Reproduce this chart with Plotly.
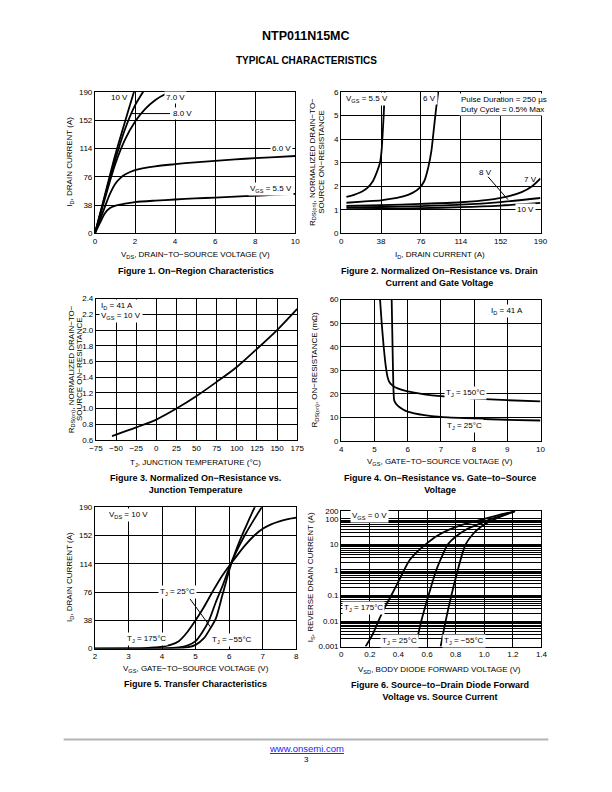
import plotly.graph_objects as go

W, H = 612, 792
FONT = "Liberation Sans, Arial, sans-serif"


def fx(p):
    return p / W


def fy(p):
    return 1 - p / H


# ---------------- DATA ----------------
# Figure 1: On-region characteristics (VDS [V] vs ID [A])
f1_vgs10_x = [0, 0.5, 1.0, 1.5, 1.9, 2.0]
f1_vgs10_y = [0, 52, 104, 150, 186, 194]
f1_vgs8_x = [0, 0.5, 1.0, 1.5, 2.0, 2.4, 2.5]
f1_vgs8_y = [0, 50, 98, 140, 172, 190, 194]
f1_vgs7_x = [0, 0.5, 1.0, 1.5, 2.0, 2.5, 3.0, 3.5, 3.8, 4.0]
f1_vgs7_y = [0, 47, 92, 126, 150, 167, 179, 187, 190, 192]
f1_vgs6_x = [0, 0.25, 0.5, 0.75, 1.0, 1.25, 1.5, 2.0, 3.0, 4.0, 5.0, 6.0, 7.0, 8.0, 9.0, 10.0]
f1_vgs6_y = [0, 18, 36, 53, 66, 74, 79, 85, 90, 93, 95.5, 97.5, 99.5, 101, 102.5, 104]
f1_vgs55_x = [0, 0.25, 0.5, 0.75, 1.0, 1.5, 2.0, 3.0, 4.0, 5.0, 6.0, 7.0, 8.0, 9.0, 10.0]
f1_vgs55_y = [0, 14, 27, 34, 37, 40, 42, 44, 45.5, 47, 48, 49.5, 50.5, 52, 53]

# Figure 2: Normalized RDS(on) vs ID for several VGS
f2_v55_x = [5, 10, 15, 20, 25, 30, 34, 37, 38.5, 39.5, 40.5, 41.5, 42.5]
f2_v55_y = [1.55, 1.6, 1.68, 1.78, 1.93, 2.2, 2.6, 3.0, 3.5, 4.2, 5.0, 6.0, 6.6]
f2_v6_x = [5, 20, 38, 50, 60, 68, 74, 79, 83, 86, 88.5, 90.5, 92.5, 93.5]
f2_v6_y = [1.3, 1.35, 1.4, 1.48, 1.58, 1.72, 1.9, 2.2, 2.8, 3.5, 4.5, 5.3, 6.0, 6.5]
f2_v7_x = [5, 38, 76, 114, 140, 160, 172, 182, 190]
f2_v7_y = [1.17, 1.2, 1.25, 1.32, 1.42, 1.58, 1.75, 2.0, 2.33]
f2_v8_x = [5, 38, 76, 114, 152, 190]
f2_v8_y = [1.1, 1.12, 1.16, 1.22, 1.33, 1.5]
f2_v10_x = [5, 38, 76, 114, 152, 190]
f2_v10_y = [1.03, 1.04, 1.07, 1.11, 1.18, 1.29]

# Figure 3: Normalized RDS(on) vs junction temperature
f3_tj = [-55, -25, 0, 25, 50, 75, 100, 125, 150, 175]
f3_r = [0.65, 0.76, 0.86, 1.0, 1.16, 1.34, 1.53, 1.76, 2.0, 2.27]

# Figure 4: RDS(on) [mOhm] vs VGS
f4_t150_vgs = [5.17, 5.22, 5.28, 5.34, 5.4, 5.45, 5.55, 5.7, 6.0, 6.5, 7.0, 8.0, 9.0, 10.0]
f4_t150_r = [60, 50, 40, 32, 27, 25, 23.5, 22.3, 21, 19.8, 19, 18, 17.3, 16.8]
f4_t25_vgs = [5.52, 5.54, 5.56, 5.58, 5.6, 5.7, 5.85, 6.0, 6.5, 7.0, 8.0, 9.0, 10.0]
f4_t25_r = [60, 45, 30, 20, 17, 15, 13.5, 12.5, 11, 10.2, 9.5, 9.0, 8.7]

# Figure 5: Transfer characteristics
f5_t175_vgs = [2, 3, 3.5, 4, 4.25, 4.5, 4.75, 5, 5.25, 5.5, 5.75, 6.05, 6.25, 6.5, 6.75, 7, 7.25, 7.5, 7.75, 8]
f5_t175_id = [0, 0.1, 0.6, 2.5, 5, 10, 22, 38, 56, 76, 95, 114, 126, 140, 152, 161, 167, 171, 174, 176]
f5_t25_vgs = [2, 4, 4.5, 4.75, 5, 5.2, 5.4, 5.6, 5.8, 6.05, 6.3, 6.5, 6.75, 7.0]
f5_t25_id = [0, 0.2, 1.5, 4, 10, 22, 38, 62, 84, 114, 138, 155, 174, 192]
f5_tm55_vgs = [2, 4.5, 4.75, 5, 5.25, 5.45, 5.6, 5.8, 6.05, 6.3, 6.5, 6.7, 6.85]
f5_tm55_id = [0, 0.3, 1.5, 5, 14, 28, 40, 72, 112, 143, 164, 184, 198]

# Figure 6: Diode forward voltage vs source current
f6_t175_vsd = [0.17, 0.22, 0.26, 0.3, 0.35, 0.4, 0.44, 0.48, 0.52, 0.59, 0.66, 0.75, 0.85, 1.0, 1.1, 1.2, 1.215]
f6_t175_is = [0.001, 0.003, 0.01, 0.03, 0.1, 0.35, 1, 2.5, 4.5, 10, 20, 37, 60, 100, 140, 190, 200]
f6_t25_vsd = [0.52, 0.56, 0.61, 0.665, 0.71, 0.745, 0.8, 0.88, 0.97, 1.05, 1.15, 1.215]
f6_t25_is = [0.001, 0.01, 0.1, 1, 4, 10, 20, 40, 65, 100, 150, 200]
f6_tm55_vsd = [0.695, 0.73, 0.77, 0.815, 0.85, 0.87, 0.92, 0.98, 1.06, 1.14, 1.215]
f6_tm55_is = [0.001, 0.01, 0.1, 1, 5, 10, 25, 50, 90, 140, 200]

# Tick values / labels
f1_xticks = [0, 2, 4, 6, 8, 10]
f1_yticks = [0, 38, 76, 114, 152, 190]
f2_xticks = [0, 38, 76, 114, 152, 190]
f2_yticks = [0, 1, 2, 3, 4, 5, 6]
f3_xticks = [-75, -50, -25, 0, 25, 50, 75, 100, 125, 150, 175]
f3_xlabels = ["−75", "−50", "−25", "0", "25", "50", "75", "100", "125", "150", "175"]
f3_yticks = [0.6, 0.8, 1.0, 1.2, 1.4, 1.6, 1.8, 2.0, 2.2, 2.4]
f3_ylabels = ["0.6", "0.8", "1.0", "1.2", "1.4", "1.6", "1.8", "2.0", "2.2", "2.4"]
f4_xticks = [4, 5, 6, 7, 8, 9, 10]
f4_yticks = [0, 10, 20, 30, 40, 50, 60]
f5_xticks = [2, 3, 4, 5, 6, 7, 8]
f5_yticks = [0, 38, 76, 114, 152, 190]
f6_xticks = [0, 0.2, 0.4, 0.6, 0.8, 1.0, 1.2, 1.4]
f6_xlabels = ["0", "0.2", "0.4", "0.6", "0.8", "1.0", "1.2", "1.4"]
f6_yticks = [0.001, 0.01, 0.1, 1, 10, 100, 200]
f6_ylabels = ["0.001", "0.01", "0.1", "1", "10", "100", "200"]

# ---------------- LAYOUT ----------------
# panel boxes in page pixels: left, right, top, bottom
boxes = {
    1: (90, 295, 89, 232),
    2: (342, 546, 89, 232),
    3: (91, 297, 298, 441),
    4: (342, 546, 299, 442),
    5: (90, 296, 509, 652),
    6: (342, 547, 513, 650),
}

fig = go.Figure()
LINE = dict(color="black", width=1.8, shape="spline", smoothing=0.8)


def add(n, x, y):
    sfx = "" if n == 1 else str(n)
    fig.add_trace(go.Scatter(x=x, y=y, mode="lines", line=LINE,
                             xaxis="x" + sfx, yaxis="y" + sfx,
                             showlegend=False, hoverinfo="skip"))


add(1, f1_vgs10_x, f1_vgs10_y)
add(1, f1_vgs8_x, f1_vgs8_y)
add(1, f1_vgs7_x, f1_vgs7_y)
add(1, f1_vgs6_x, f1_vgs6_y)
add(1, f1_vgs55_x, f1_vgs55_y)
add(2, f2_v55_x, f2_v55_y)
add(2, f2_v6_x, f2_v6_y)
add(2, f2_v7_x, f2_v7_y)
add(2, f2_v8_x, f2_v8_y)
add(2, f2_v10_x, f2_v10_y)
add(3, f3_tj, f3_r)
add(4, f4_t150_vgs, f4_t150_r)
add(4, f4_t25_vgs, f4_t25_r)
add(5, f5_t175_vgs, f5_t175_id)
add(5, f5_t25_vgs, f5_t25_id)
add(5, f5_tm55_vgs, f5_tm55_id)
add(6, f6_t175_vsd, f6_t175_is)
add(6, f6_t25_vsd, f6_t25_is)
add(6, f6_tm55_vsd, f6_tm55_is)

tickfont = dict(family=FONT, size=8, color="black")


def axis_pair(n, xr, yr, xt, yt, xlab=None, ylab=None, ylog=False, yminor=None):
    l, r, t, b = boxes[n]
    sfx = "" if n == 1 else str(n)
    xa = dict(domain=[fx(l), fx(r)], range=xr, anchor="y" + sfx,
              tickvals=xt, ticktext=xlab if xlab else [str(v) for v in xt],
              showgrid=True, gridcolor="black", gridwidth=1,
              showline=True, mirror=True, linecolor="black", linewidth=1,
              zeroline=False, ticks="", tickfont=tickfont, fixedrange=True)
    ya = dict(domain=[fy(b), fy(t)], range=yr, anchor="x" + sfx,
              tickvals=yt, ticktext=ylab if ylab else [str(v) for v in yt],
              showgrid=True, gridcolor="black", gridwidth=1,
              showline=True, mirror=True, linecolor="black", linewidth=1,
              zeroline=False, ticks="", tickfont=tickfont, fixedrange=True)
    if ylog:
        ya["type"] = "log"
        ya["minor"] = dict(tickmode="array", tickvals=yminor, showgrid=True,
                           gridcolor="black", gridwidth=1, ticks="")
    return {"xaxis" + sfx: xa, "yaxis" + sfx: ya}


# minor grid lines of the log axis: 2..9 x each decade
f6_yminor = []
for dec in [0.001, 0.01, 0.1, 1, 10, 100]:
    for m in range(2, 10):
        v = round(m * dec, 6)
        if v < 200:
            f6_yminor.append(v)

axes = {}
axes.update(axis_pair(1, [0, 10], [0, 190], f1_xticks, f1_yticks))
axes.update(axis_pair(2, [0, 190], [0, 6], f2_xticks, f2_yticks))
axes.update(axis_pair(3, [-75, 175], [0.6, 2.4], f3_xticks, f3_yticks, f3_xlabels, f3_ylabels))
axes.update(axis_pair(4, [4, 10], [0, 60], f4_xticks, f4_yticks))
axes.update(axis_pair(5, [2, 8], [0, 190], f5_xticks, f5_yticks))
axes.update(axis_pair(6, [0, 1.4], [-3, 2.30103], f6_xticks, f6_yticks, f6_xlabels, f6_ylabels,
                      ylog=True, yminor=f6_yminor))

ann = []


def page_text(x, y, text, size=8, bold=False, angle=0, color="black", xanchor="center"):
    t = "<b>%s</b>" % text if bold else text
    ann.append(dict(x=fx(x), y=fy(y), xref="paper", yref="paper", text=t, showarrow=False,
                    xanchor=xanchor, yanchor="middle", textangle=angle,
                    font=dict(family=FONT, size=size, color=color)))


def data_text(n, x, y, text, bg=True, xanchor="center", align="center"):
    sfx = "" if n == 1 else str(n)
    ann.append(dict(x=x, y=y, xref="x" + sfx, yref="y" + sfx, text=text, showarrow=False,
                    xanchor=xanchor, yanchor="middle", align=align,
                    bgcolor="white" if bg else None, borderpad=1,
                    font=dict(family=FONT, size=8, color="black")))


# Header
page_text(306, 32, "NTP011N15MC", size=12.5, bold=True)
page_text(306, 57, "TYPICAL CHARACTERISTICS", size=10, bold=True)

# Axis titles
page_text(193, 254, "V<sub>DS</sub>, DRAIN−TO−SOURCE VOLTAGE (V)")
page_text(65, 160, "I<sub>D</sub>, DRAIN CURRENT (A)", angle=-90)
page_text(443, 254, "I<sub>D</sub>, DRAIN CURRENT (A)")
page_text(313, 160, "R<sub>DS(on)</sub>, NORMALIZED DRAIN−TO−", angle=-90)
page_text(322, 160, "SOURCE ON−RESISTANCE", angle=-90)
page_text(193, 464, "T<sub>J</sub>, JUNCTION TEMPERATURE (°C)")
page_text(66, 369, "R<sub>DS(on)</sub>, NORMALIZED DRAIN−TO−", angle=-90)
page_text(75, 369, "SOURCE ON−RESISTANCE", angle=-90)
page_text(443, 463, "V<sub>GS</sub>, GATE−TO−SOURCE VOLTAGE (V)")
page_text(315, 370, "R<sub>DS(on)</sub>, ON−RESISTANCE (mΩ)", angle=-90)
page_text(193, 673, "V<sub>GS</sub>, GATE−TO−SOURCE VOLTAGE (V)")
page_text(65, 580, "I<sub>D</sub>, DRAIN CURRENT (A)", angle=-90)
page_text(443, 674, "V<sub>SD</sub>, BODY DIODE FORWARD VOLTAGE (V)")
page_text(312, 580, "I<sub>S</sub>, REVERSE DRAIN CURRENT (A)", angle=-90)

# Captions
page_text(193, 270, "Figure 1. On−Region Characteristics", size=9, bold=True)
page_text(443, 276, "Figure 2. Normalized On−Resistance vs. Drain<br>Current and Gate Voltage", size=9, bold=True)
page_text(193, 486, "Figure 3. Normalized On−Resistance vs.<br>Junction Temperature", size=9, bold=True)
page_text(443, 486, "Figure 4. On−Resistance vs. Gate−to−Source<br>Voltage", size=9, bold=True)
page_text(193, 688, "Figure 5. Transfer Characteristics", size=9, bold=True)
page_text(443, 695, "Figure 6. Source−to−Drain Diode Forward<br>Voltage vs. Source Current", size=9, bold=True)

# Footer
page_text(306, 753, "<u>www.onsemi.com</u>", size=9.5, color="#1a1aff")
page_text(306, 764, "3", size=8)

# In-plot labels
data_text(1, 1.22, 182, "10 V", bg=False)
data_text(1, 4.0, 182, "7.0 V")
data_text(1, 3.8, 161, "8.0 V", xanchor="left")
data_text(1, 9.3, 114, "6.0 V")
data_text(1, 8.8, 60, "V<sub>GS</sub> = 5.5 V")

data_text(2, 3, 5.72, "V<sub>GS</sub> = 5.5 V", xanchor="left")
data_text(2, 84, 5.72, "6 V")
data_text(2, 112, 5.45, "Pulse Duration = 250 µs<br>Duty Cycle = 0.5% Max", xanchor="left", align="left")
data_text(2, 138, 2.6, "8 V", bg=False)
data_text(2, 180, 2.3, "7 V", bg=False)
data_text(2, 176, 1.0, "10 V")

data_text(3, -71, 2.24, "I<sub>D</sub> = 41 A<br>V<sub>GS</sub> = 10 V", xanchor="left", align="left")

data_text(4, 9.0, 55, "I<sub>D</sub> = 41 A")
data_text(4, 7.75, 20.5, "T<sub>J</sub> = 150°C")
data_text(4, 7.7, 6.5, "T<sub>J</sub> = 25°C")

data_text(5, 3.0, 179, "V<sub>DS</sub> = 10 V")
data_text(5, 4.45, 76, "T<sub>J</sub> = 25°C")
data_text(5, 3.55, 13, "T<sub>J</sub> = 175°C")
data_text(5, 6.1, 12, "T<sub>J</sub> = −55°C")

data_text(6, 0.2, 2.13, "V<sub>GS</sub> = 0 V")
data_text(6, 0.155, -1.49, "T<sub>J</sub> = 175°C")
data_text(6, 0.41, -2.78, "T<sub>J</sub> = 25°C")
data_text(6, 0.86, -2.78, "T<sub>J</sub> = −55°C")

shapes = [
    # footer rule
    dict(type="line", xref="paper", yref="paper", x0=fx(58), x1=fx(554), y0=fy(744), y1=fy(744),
         line=dict(color="#b4b4b4", width=2)),
    # Fig 1 8.0 V leader
    dict(type="line", xref="x", yref="y", x0=1.8, x1=3.75, y0=161, y1=161, line=dict(color="black", width=1)),
    # Fig 2 8 V leader
    dict(type="line", xref="x2", yref="y2", x0=140, x1=159, y0=2.4, y1=1.43, line=dict(color="black", width=1)),
    # Fig 5 25C leader
    dict(type="line", xref="x5", yref="y5", x0=4.83, x1=5.46, y0=67, y1=28, line=dict(color="black", width=1)),
]

fig.update_layout(width=W, height=H, margin=dict(l=0, r=0, t=0, b=0),
                  paper_bgcolor="white", plot_bgcolor="white",
                  font=dict(family=FONT, size=8, color="black"),
                  annotations=ann, shapes=shapes, showlegend=False, **axes)

fig.write_html("out.html", config={"displayModeBar": False},
               post_script="document.body.style.margin='0';document.body.style.padding='0';")
